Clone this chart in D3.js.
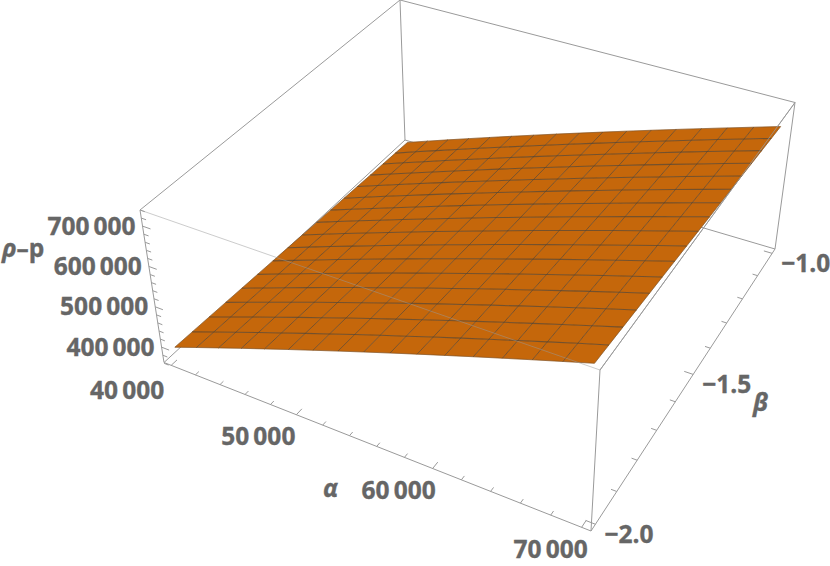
<!DOCTYPE html>
<html><head><meta charset="utf-8">
<style>html,body{margin:0;padding:0;background:#fff}svg{display:block}text{font-family:"Open Sans","Liberation Sans",sans-serif;font-weight:700;fill:#666;font-size:24.5px;stroke:#666;stroke-width:.35px}</style>
<script src="https://cdn.jsdelivr.net/npm/d3@7"></script></head><body><svg id="c" width="830" height="566"></svg>
<script>
const alphaMesh=[40000,41875,43750,45625,47500,49375,51250,53125,55000,56875,58750,60625,62500,64375,66250,68125,70000];
const betaMesh=[-2,-1.9375,-1.875,-1.8125,-1.75,-1.6875,-1.625,-1.5625,-1.5,-1.4375,-1.375,-1.3125,-1.25,-1.1875,-1.125,-1.0625,-1];
const zTable=[
[394000,415150,436300,457450,478600,499750,520900,542050,563200,584350,605500,626650,647800,668950,690100,711250,732400],
[392500,413550,434600,455650,476700,497750,518800,539850,560900,581950,603000,624050,645100,666150,687200,708250,729300],
[391000,411950,432900,453850,474800,495750,516700,537650,558600,579550,600500,621450,642400,663350,684300,705250,726200],
[389500,410350,431200,452050,472900,493750,514600,535450,556300,577150,598000,618850,639700,660550,681400,702250,723100],
[388000,408750,429500,450250,471000,491750,512500,533250,554000,574750,595500,616250,637000,657750,678500,699250,720000],
[386500,407150,427800,448450,469100,489750,510400,531050,551700,572350,593000,613650,634300,654950,675600,696250,716900],
[385000,405550,426100,446650,467200,487750,508300,528850,549400,569950,590500,611050,631600,652150,672700,693250,713800],
[383500,403950,424400,444850,465300,485750,506200,526650,547100,567550,588000,608450,628900,649350,669800,690250,710700],
[382000,402350,422700,443050,463400,483750,504100,524450,544800,565150,585500,605850,626200,646550,666900,687250,707600],
[380500,400750,421000,441250,461500,481750,502000,522250,542500,562750,583000,603250,623500,643750,664000,684250,704500],
[379000,399150,419300,439450,459600,479750,499900,520050,540200,560350,580500,600650,620800,640950,661100,681250,701400],
[377500,397550,417600,437650,457700,477750,497800,517850,537900,557950,578000,598050,618100,638150,658200,678250,698300],
[376000,395950,415900,435850,455800,475750,495700,515650,535600,555550,575500,595450,615400,635350,655300,675250,695200],
[374500,394350,414200,434050,453900,473750,493600,513450,533300,553150,573000,592850,612700,632550,652400,672250,692100],
[373000,392750,412500,432250,452000,471750,491500,511250,531000,550750,570500,590250,610000,629750,649500,669250,689000],
[371500,391150,410800,430450,450100,469750,489400,509050,528700,548350,568000,587650,607300,626950,646600,666250,685900],
[370000,389550,409100,428650,448200,467750,487300,506850,526400,545950,565500,585050,604600,624150,643700,663250,682800]];
const alphaTicks=[40000,42000,44000,46000,48000,50000,52000,54000,56000,58000,60000,62000,64000,66000,68000,70000];
const alphaMajor=[40000,50000,60000,70000];
const alphaLabels=["40\u2009000","50\u2009000","60\u2009000","70\u2009000"];
const betaTicks=[-2,-1.9,-1.8,-1.7,-1.6,-1.5,-1.4,-1.3,-1.2,-1.1,-1];
const betaMajor=[-2,-1.5,-1];
const betaLabels=["\u22122.0","\u22121.5","\u22121.0"];
const zTicks=[360000,380000,400000,420000,440000,460000,480000,500000,520000,540000,560000,580000,600000,620000,640000,660000,680000,700000,720000,740000];
const zMajor=[400000,500000,600000,700000];
const zLabels=["400\u2009000","500\u2009000","600\u2009000","700\u2009000"];

const u=d3.scaleLinear().domain([39400,70600]).range([0,1]);
const v=d3.scaleLinear().domain([-2.02,-0.98]).range([0,1]);
const w=d3.scaleLinear().domain([362000,740000]).range([0,1]);

function quad(p00,p10,p11,p01){
  const [x0,y0]=p00,[x1,y1]=p10,[x2,y2]=p11,[x3,y3]=p01;
  const dx1=x1-x2,dx2=x3-x2,sx=x0-x1+x2-x3,dy1=y1-y2,dy2=y3-y2,sy=y0-y1+y2-y3;
  const den=dx1*dy2-dx2*dy1,g=(sx*dy2-dx2*sy)/den,h=(dx1*sy-sx*dy1)/den;
  const a=x1-x0+g*x1,b=x3-x0+h*x3,c=x0,d=y1-y0+g*y1,e=y3-y0+h*y3,f=y0;
  return (s,t)=>{const q=g*s+h*t+1;return [(a*s+b*t+c)/q,(d*s+e*t+f)/q];};
}
const bottom=quad([164,362.5],[591,531],[775,249],[405,140]);
const top_=quad([140,210],[600,370],[795,102.5],[400,0]);
function P(s,t,r){const a=bottom(s,t),b=top_(s,t);return [a[0]+(b[0]-a[0])*r,a[1]+(b[1]-a[1])*r];}
const proj=(al,be,z)=>P(u(al),v(be),w(z));

const svg=d3.select("#c");
const line=d3.line();
const boxC="#9a9a9a";
function seg(g,a,b,col,wd,op){g.append("path").attr("d",line([a,b])).attr("fill","none").attr("stroke",col).attr("stroke-width",wd).attr("opacity",op==null?1:op);}
const back=svg.append("g");
[[[0,0,0],[1,0,0]],[[1,0,0],[1,1,0]],[[1,1,0],[0,1,0]],[[0,1,0],[0,0,0]],
 [[0,0,0],[0,0,1]],[[1,0,0],[1,0,1]],[[1,1,0],[1,1,1]],[[0,1,0],[0,1,1]],
 [[0,0,1],[0,1,1]],[[0,1,1],[1,1,1]]].forEach(e=>seg(back,P(...e[0]),P(...e[1]),boxC,1));
seg(back,P(1,0,1),P(1,1,1),boxC,1);

// ticks
alphaTicks.forEach(a=>{const m=alphaMajor.includes(a),s=u(a);seg(back,P(s,0,0),P(s,m?0.02:0.012,0),boxC,1);});
betaTicks.forEach(b=>{const m=betaMajor.includes(b),t=v(b);seg(back,P(1,t,0),P(m?0.98:0.988,t,0),boxC,1);});
zTicks.forEach(z=>{const m=zMajor.includes(z),r=w(z);seg(back,P(0,0,r),P(m?0.02:0.012,0,r),boxC,1);});

// surface
const surf=svg.append("g");
const cells=[];
betaMesh.slice(0,-1).forEach((b,j)=>alphaMesh.slice(0,-1).forEach((a,i)=>cells.push([
 proj(a,b,zTable[j][i]),proj(alphaMesh[i+1],b,zTable[j][i+1]),proj(alphaMesh[i+1],betaMesh[j+1],zTable[j+1][i+1]),proj(a,betaMesh[j+1],zTable[j+1][i])])));
surf.selectAll("path.cell").data(cells).join("path").attr("class","cell").attr("d",d=>line(d)+"Z").attr("fill","#C5670B").attr("stroke","#C5670B").attr("stroke-width",0.4);
const mesh=surf.append("g").attr("fill","none").attr("stroke","#5c4630").attr("stroke-width",1);
betaMesh.forEach((b,j)=>mesh.append("path").attr("d",line(alphaMesh.map((a,i)=>proj(a,b,zTable[j][i])))).attr("stroke-width",j==0||j==16?0.6:1.05).attr("stroke-opacity",.78));
alphaMesh.forEach((a,i)=>mesh.append("path").attr("d",line(betaMesh.map((b,j)=>proj(a,b,zTable[j][i])))).attr("stroke-width",i==0||i==16?0.6:0.9).attr("stroke-opacity",.82));

// front box edges
const front=svg.append("g");
seg(front,P(0,0,1),P(1,0,1),boxC,1,.5);
seg(front,P(1,0,1),P(1,1,1),boxC,1,.8);

// labels
const T=svg.append("g");
zMajor.forEach((z,i)=>{const p=P(0,0,w(z));T.append("text").attr("x",p[0]-7).attr("y",p[1]+8.5).attr("text-anchor","end").text(zLabels[i]);});
alphaMajor.forEach((a,i)=>{const p=P(u(a),0,0);T.append("text").attr("x",p[0]-[44,38,34,31][i]).attr("y",p[1]+[25,22,22,22][i]+8.5).attr("text-anchor","middle").text(alphaLabels[i]);});
betaMajor.forEach((b,i)=>{const p=P(1,v(b),0);T.append("text").attr("x",p[0]+9).attr("y",p[1]+10+8.5).text(betaLabels[i]);});
const rp=T.append("text").attr("x",2).attr("y",257);
rp.append("tspan").attr("font-style","italic").text("\u03C1");rp.append("tspan").text("\u2013p");
T.append("text").attr("x",323).attr("y",497).attr("font-style","italic").text("\u03B1");
T.append("text").attr("x",753).attr("y",411).attr("font-style","italic").text("\u03B2");
</script></body></html>
